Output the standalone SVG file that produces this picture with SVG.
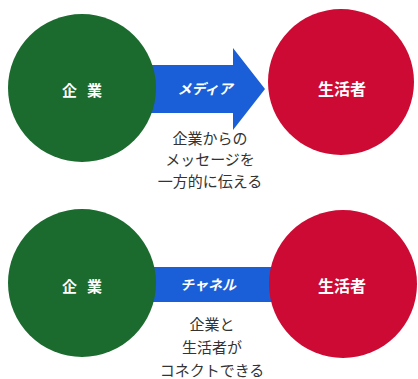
<svg xmlns="http://www.w3.org/2000/svg" width="418" height="379" viewBox="0 0 418 379">
<style>
.g{fill:#1b6a2e}
.r{fill:#cc0a33}
.b{fill:#1a5fd8}
.lab{font-family:"Noto Sans CJK JP","Noto Sans",sans-serif;font-weight:bold;fill:#fff;text-anchor:middle;dominant-baseline:central}
.cap{font-family:"Noto Sans CJK JP","Noto Sans",sans-serif;font-size:15px;fill:#333;text-anchor:middle;dominant-baseline:central}
</style>
<rect width="418" height="379" fill="#fff"/>
<g id="connectors">
<polygon class="b" points="150,65 233,65 233,48 265,89 233,130 233,113 150,113"/>
<text class="lab" x="205" y="88" font-size="14" font-style="italic">メディア</text>
<rect class="b" x="150" y="267" width="125" height="35"/>
<text class="lab" x="208" y="284" font-size="14" font-style="italic">チャネル</text>
</g>
<g id="kigyo1">
<circle class="g" cx="82" cy="88" r="74"/>
<text class="lab" x="82" y="89" font-size="15" xml:space="preserve">企   業</text>
</g>
<g id="seikatsusha1">
<circle class="r" cx="341" cy="82" r="73"/>
<text class="lab" x="342" y="88" font-size="16">生活者</text>
</g>
<g id="caption1">
<text class="cap" x="210" y="137">企業からの</text>
<text class="cap" x="210" y="158">メッセージを</text>
<text class="cap" x="210" y="180">一方的に伝える</text>
</g>
<g id="kigyo2">
<circle class="g" cx="82" cy="283" r="74"/>
<text class="lab" x="82" y="285" font-size="15" xml:space="preserve">企   業</text>
</g>
<g id="seikatsusha2">
<circle class="r" cx="343" cy="284" r="74"/>
<text class="lab" x="342" y="285" font-size="16">生活者</text>
</g>
<g id="caption2">
<text class="cap" x="212" y="323">企業と</text>
<text class="cap" x="212" y="346">生活者が</text>
<text class="cap" x="212" y="369">コネクトできる</text>
</g>
</svg>
